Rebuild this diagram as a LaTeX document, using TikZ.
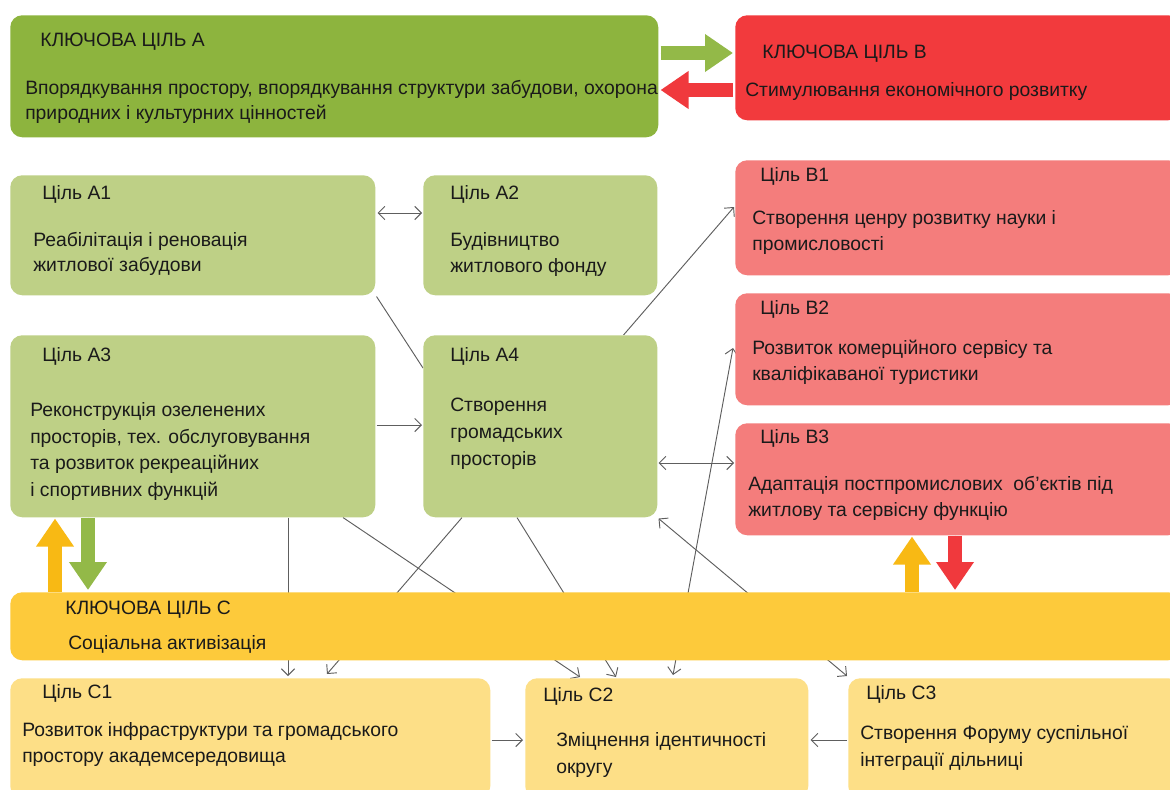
\documentclass[tikz,border=0pt]{standalone}
\usepackage{fontspec}
\setmainfont{Liberation Sans}
\usetikzlibrary{calc,arrows.meta,backgrounds}
\definecolor{kAcol}{HTML}{8DB43E}
\definecolor{Acol}{HTML}{BED086}
\definecolor{kBcol}{HTML}{F23A3D}
\definecolor{Bcol}{HTML}{F47D7C}
\definecolor{kCcol}{HTML}{FDCA3B}
\definecolor{Ccol}{HTML}{FDDF87}
\definecolor{orng}{HTML}{F8B914}
\definecolor{grn}{HTML}{93B948}
\definecolor{redA}{HTML}{F0393D}
\definecolor{linec}{HTML}{5E5E5E}
\definecolor{txt}{HTML}{1A1A1A}
\begin{document}
\begin{tikzpicture}[x=0.75pt,y=-0.75pt,
  box/.style={rounded corners=9pt, draw=none, anchor=north west, inner sep=0pt},
  sz/.style 2 args={minimum width=#1*0.75pt, minimum height=#2*0.75pt},
  lbl/.style={anchor=base west, inner sep=0pt, text=txt, font=\fontsize{14.5}{19}\selectfont},
  conn/.style={draw=linec, line width=0.7pt},
  tip/.style={-{Straight Barb[length=5pt,width=10pt]}},
  tips/.style={{Straight Barb[length=5pt,width=10pt]}-{Straight Barb[length=5pt,width=10pt]}},
  fat/.style={line width=10pt, -{Triangle[length=21pt 0 0,width=27pt 0 0]}}
]
\useasboundingbox (0,0) rectangle (1170,789);
\begin{scope}[on background layer]
\fill[white] (0,0) rectangle (1170,789);
\end{scope}
\clip (0,0) rectangle (1170,789);

% boxes
\node[box, fill=kAcol, sz={648}{122}] (kA) at (10,15) {};
\node[box, fill=kBcol, sz={445}{105}] (kB) at (735,15) {};
\node[box, fill=Acol, sz={365}{120}] (A1) at (10,175) {};
\node[box, fill=Acol, sz={234}{120}] (A2) at (423,175) {};
\node[box, fill=Acol, sz={365}{182}] (A3) at (10,335) {};
\node[box, fill=Acol, sz={234}{182}] (A4) at (423,335) {};
\node[box, fill=Bcol, sz={445}{115}] (B1) at (735,160) {};
\node[box, fill=Bcol, sz={445}{112}] (B2) at (735,293) {};
\node[box, fill=Bcol, sz={445}{112}] (B3) at (735,423) {};
\node[box, fill=kCcol, sz={1170}{68}] (kC) at (10,592) {};
\node[box, fill=Ccol, sz={480}{120}] (C1) at (10,678) {};
\node[box, fill=Ccol, sz={283}{120}] (C2) at (525,678) {};
\node[box, fill=Ccol, sz={332}{120}] (C3) at (848,678) {};

% texts
\node[lbl] (tkA) at (40,46) {КЛЮЧОВА ЦІЛЬ А};
\node[lbl] (tkA1) at (25,94) {Впорядкування простору, впорядкування структури забудови, охорона};
\node[lbl] (tkA2) at (25,119) {природних і культурних цінностей};
\node[lbl] (tkB) at (762,58) {КЛЮЧОВА ЦІЛЬ В};
\node[lbl] (tkB1) at (745,96) {Стимулювання економічного розвитку};
\node[lbl] (tA1) at (42,199) {Ціль А1};
\node[lbl] (tA1a) at (33,246) {Реабілітація і реновація};
\node[lbl] (tA1b) at (33,271) {житлової забудови};
\node[lbl] (tA2) at (450,199) {Ціль А2};
\node[lbl] (tA2a) at (450,246) {Будівництво};
\node[lbl] (tA2b) at (450,272) {житлового фонду};
\node[lbl] (tB1) at (760,181) {Ціль В1};
\node[lbl] (tB1a) at (752,224) {Створення ценру розвитку науки і};
\node[lbl] (tB1b) at (752,250) {промисловості};
\node[lbl] (tB2) at (760,314) {Ціль В2};
\node[lbl] (tB2a) at (752,354) {Розвиток комерційного сервісу та};
\node[lbl] (tB2b) at (752,380) {кваліфікаваної туристики};
\node[lbl] (tA3) at (42,361) {Ціль А3};
\node[lbl] (tA3a) at (30,416) {Реконструкція озеленених};
\node[lbl] (tA3b) at (30,443) {просторів, тех. обслуговування};
\node[lbl] (tA3c) at (30,469) {та розвиток рекреаційних};
\node[lbl] (tA3d) at (30,496) {і спортивних функцій};
\node[lbl] (tA4) at (450,361) {Ціль А4};
\node[lbl] (tA4a) at (450,411) {Створення};
\node[lbl] (tA4b) at (450,438) {громадських};
\node[lbl] (tA4c) at (450,465) {просторів};
\node[lbl] (tB3) at (760,443) {Ціль В3};
\node[lbl] (tB3a) at (748,490) {Адаптація постпромислових\ \ об'єктів під};
\node[lbl] (tB3b) at (748,516) {житлову та сервісну функцію};
\node[lbl] (tkC) at (65,614) {КЛЮЧОВА ЦІЛЬ С};
\node[lbl] (tkC1) at (68,649) {Соціальна активізація};
\node[lbl] (tC1) at (42,698) {Ціль С1};
\node[lbl] (tC1a) at (22,736) {Розвиток інфраструктури та громадського};
\node[lbl] (tC1b) at (22,762) {простору академсередовища};
\node[lbl] (tC2) at (543,701) {Ціль С2};
\node[lbl] (tC2a) at (556,746) {Зміцнення ідентичності};
\node[lbl] (tC2b) at (556,773) {округу};
\node[lbl] (tC3) at (866,699) {Ціль С3};
\node[lbl] (tC3a) at (860,739) {Створення Форуму суспільної};
\node[lbl] (tC3b) at (860,766) {інтеграції дільниці};

% thin connectors (behind boxes)
\begin{scope}[on background layer]
\draw[conn,tips] ($(A1.north east)+(2,38)$) -- ($(A2.north west)+(-1,38)$);
\draw[conn] ($(A1.south east)+(1,1)$) -- ($(A4.north west)+(0,33)$);
\draw[conn,tip] ($(A4.north east)+(-34,0)$) -- ($(B1.north west)+(-1,47)$);
\draw[conn,tip] ($(A3.north east)+(1,90)$) -- ($(A4.north west)+(-1,90)$);
\draw[conn,tips] ($(A4.north east)+(1,128)$) -- ($(B3.north west)+(-1,40)$);
\draw[conn,tips] ($(C2.north west)+(148,-3)$) -- ($(B2.north west)+(-2,55)$);
\draw[conn,tips] ($(A4.south east)+(1,1)$) -- ($(C3.north west)+(-1,-2)$);
\draw[conn,tip] ($(A3.south west)+(278,0)$) -- ($(C1.north west)+(278,-2)$);
\draw[conn,tip] ($(A4.south west)+(39,0)$) -- ($(C1.north west)+(317,-4)$);
\draw[conn,tip] ($(A3.south west)+(333,0)$) -- ($(C2.north west)+(55,-1)$);
\draw[conn,tip] ($(A4.south west)+(94,0)$) -- ($(C2.north west)+(91,-1)$);
\draw[conn,tip] ($(C1.north east)+(1,62)$) -- ($(C2.north west)+(-2,62)$);
\draw[conn,tip] ($(C3.north west)+(-1,62)$) -- ($(C2.north east)+(2,62)$);
\end{scope}

% thick arrows
\draw[fat, draw=grn, fill=grn] ($(kA.north east)+(2,38)$) -- ($(kB.north west)+(-2,38)$);
\draw[fat, draw=redA, fill=redA] ($(kB.north west)+(-2,75)$) -- ($(kA.north east)+(2,75)$);
\draw[fat, draw=orng, fill=orng] ($(kC.north west)+(45,0)$) -- ($(A3.south west)+(45,1)$);
\draw[fat, draw=grn, fill=grn] ($(A3.south west)+(78,0)$) -- ($(kC.north west)+(78,-2)$);
\draw[fat, draw=orng, fill=orng] ($(kC.north west)+(902,0)$) -- ($(B3.south west)+(177,1)$);
\draw[fat, draw=redA, fill=redA] ($(B3.south west)+(220,0)$) -- ($(kC.north west)+(945,-2)$);
\end{tikzpicture}
\end{document}
